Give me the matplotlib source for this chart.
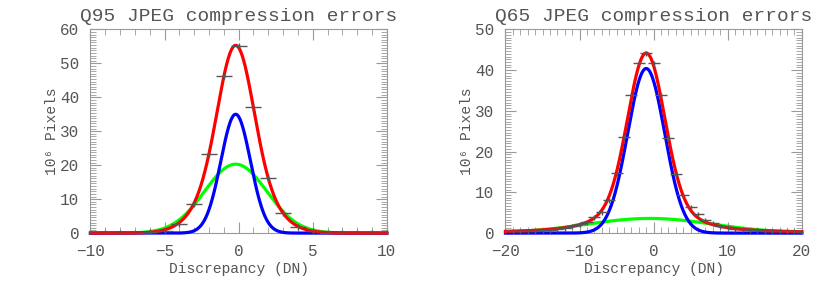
import numpy as np
import matplotlib
matplotlib.use('Agg')
from matplotlib import pyplot as plt
from matplotlib.path import Path
from matplotlib.ticker import MultipleLocator, AutoMinorLocator

# Q95 panel: histogram points (bins at integer DN) and Gaussian fit parameters
q95_x = list(range(-10, 11))
q95_counts = [0, 0, 0, 0.05, 0.2, 0.6, 2.7, 8.6, 23.2, 46.2, 55.0,
              37.0, 16.1, 5.8, 1.8, 0.5, 0.15, 0, 0, 0, 0]
q95_center = -0.2
q95_red = [(35.5, 1.15), (19.8, 1.95)]     # (amplitude, sigma) of total fit
q95_blue = [(35.0, 1.0)]
q95_green = [(20.3, 2.1)]

# Q65 panel
q65_x = list(range(-20, 21))
q65_counts = [0.4, 0.4, 0.5, 0.5, 0.6, 0.7, 0.8, 1.0, 1.3, 1.7,
              2.2, 2.8, 4.0, 5.2, 8.1, 14.8, 23.5, 34.0, 41.8, 44.2,
              41.8, 34.0, 23.4, 14.4, 9.3, 6.3, 4.8, 3.2, 2.4, 1.8,
              1.4, 1.1, 0.9, 0.8, 0.7, 0.6, 0.5, 0.5, 0.4, 0.4, 0.3]
q65_center = -1.0
q65_red = [(37.5, 2.45), (5.5, 5.0), (1.2, 13.0)]
q65_blue = [(40.4, 2.5)]
q65_green = [(3.6, 8.5)]
q65_green_center = -0.5

fonts = ['Liberation Mono', 'DejaVu Sans Mono']
plt.rcParams['font.family'] = fonts
txt = '#555555'
axc = '#999999'

plus = Path([(-1, 0), (1, 0), (0, -0.4), (0, 0.4)],
            [Path.MOVETO, Path.LINETO, Path.MOVETO, Path.LINETO])


def gauss(x, mu, comps):
    y = np.zeros_like(x)
    for a, s in comps:
        y += a * np.exp(-(x - mu) ** 2 / (2 * s ** 2))
    return y


def panel(ax, xs, counts, mu, red, blue, green, gmu, xlim, ylim, title,
          xminor, yminor, msize):
    xx = np.linspace(xlim[0], xlim[1], 800)
    ax.plot(xx, gauss(xx, gmu, green), color='#00ff00', lw=2.3, clip_on=False, zorder=2)
    ax.plot(xx, gauss(xx, mu, blue), color='#0000ff', lw=2.3, clip_on=False, zorder=3)
    ax.plot(xx, gauss(xx, mu, red), color='#ff0000', lw=2.3, clip_on=False, zorder=4)
    ax.plot(xs, counts, linestyle='none', marker=plus, markersize=msize,
            markeredgewidth=1.0, color='#555555', zorder=5)
    ax.set_xlim(*xlim)
    ax.set_ylim(*ylim)
    ax.xaxis.set_minor_locator(AutoMinorLocator(xminor))
    ax.yaxis.set_minor_locator(AutoMinorLocator(yminor))
    ax.tick_params(which='both', direction='in', top=True, right=True,
                   color=axc, labelcolor=txt, labelsize=11.5, pad=8)
    ax.tick_params(which='major', length=8, width=0.8)
    ax.tick_params(which='minor', length=4, width=0.6)
    for sp in ax.spines.values():
        sp.set_color(axc)
        sp.set_linewidth(0.8)
    ax.set_title(title, fontsize=14, color=txt, pad=6)
    ax.set_xlabel('Discrepancy (DN)', fontsize=10.5, color=txt, labelpad=2)
    ax.set_ylabel('10⁶ Pixels', fontsize=10.5, color=txt, labelpad=1)


fig = plt.figure(figsize=(8.3, 2.91), dpi=100)
ax1 = fig.add_axes([0.109, 0.199, 0.357, 0.700])
ax2 = fig.add_axes([0.609, 0.199, 0.357, 0.700])

panel(ax1, q95_x, q95_counts, q95_center, q95_red, q95_blue, q95_green,
      q95_center, (-10, 10), (0, 60), 'Q95 JPEG compression errors', 5, 13, 11)
ax1.xaxis.set_major_locator(MultipleLocator(5))
ax1.yaxis.set_major_locator(MultipleLocator(10))

panel(ax2, q65_x, q65_counts, q65_center, q65_red, q65_blue, q65_green,
      q65_green_center, (-20, 20), (0, 50), 'Q65 JPEG compression errors', 10, 15, 9)
ax2.xaxis.set_major_locator(MultipleLocator(10))
ax2.yaxis.set_major_locator(MultipleLocator(10))

fig.savefig('out.png', dpi=100)
